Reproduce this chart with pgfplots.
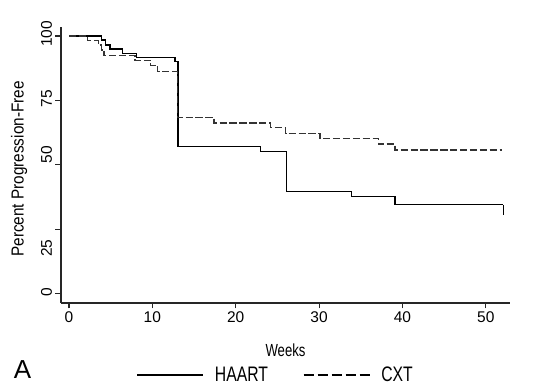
\documentclass[border=0pt]{standalone}
\usepackage{fontspec}
\setmainfont{Liberation Sans}
\newfontfamily\condfont{Liberation Sans}[FakeStretch=0.75]
\newfontfamily\ylfont{Liberation Sans}[FakeStretch=0.88]
\usepackage{pgfplots}
\pgfplotsset{compat=1.18}
\begin{document}
\begin{tikzpicture}
\useasboundingbox (0,0) rectangle (560pt,390pt);
\begin{axis}[
  at={(61pt,87pt)}, anchor=south west,
  width=449pt, height=276pt, scale only axis,
  xmin=-0.96, xmax=52.9, ymin=-3.6, ymax=103.5,
  axis x line*=bottom, axis y line*=left,
  axis line style={line width=1.4pt, black!85},
  xtick={0,10,20,30,40,50}, ytick={0,25,50,75,100},
  yticklabels={0,{25\hspace*{42pt}},{\hspace*{16pt}50},75,100},
  tick align=outside, major tick length=5.5pt,
  tick style={line width=1.1pt, black!85},
  /pgf/number format/assume math mode=true,
  tick label style={font=\fontsize{15.5}{15.5}\selectfont},
  y tick label style={rotate=90, anchor=south, xshift=2pt},
  xlabel={Weeks},
  xlabel style={at={(axis description cs:0.5,-0.17)}, anchor=center, font=\condfont\fontsize{17.5}{17.5}\selectfont},
  ylabel={Percent Progression-Free},
  ylabel style={at={(axis description cs:-0.0935,0.4855)}, anchor=center, rotate=0, font=\ylfont\fontsize{17.4}{17.4}\selectfont},
  legend columns=2,
  legend style={draw=none, fill=none, at={(axis description cs:0.168,-0.261)}, anchor=west,
    font=\condfont\fontsize{21}{21}\selectfont, inner sep=0pt,
    /tikz/every odd column/.append style={column sep=9pt},
    /tikz/every even column/.append style={column sep=33pt}},
  legend image code/.code={\draw[#1] (0pt,0pt) -- (66pt,0pt);},
]
\addplot[const plot, black, line width=1.3pt, forget plot] coordinates {
 (0,100) (3.9,98.4) (4.4,96.5) (4.9,95.0) (6.4,93.3) (8.1,91.7) (12.7,90.0)
 (13.06,57.0) (23.0,55.2) (26.1,39.7) (33.9,37.7) (39.1,34.5) (52.1,34.5) };
\addplot[black, line width=1.3pt, forget plot] coordinates {(52.1,34.5) (52.1,30.6)};
\addplot[const plot, black!80, line width=1.3pt, dash pattern=on 7.3pt off 2.6pt, forget plot] coordinates {
 (0,100) (2.2,98.2) (3.5,96.5) (3.9,94.6) (4.2,92.5) (7.9,90.6) (9.8,88.6) (10.6,86.2)
 (13.0,68.4) (17.4,66.2) (24.2,64.6) (26.0,62.3) (30.1,60.3) (37.1,58.1) (39.1,55.8) (51.9,55.8) };
\addlegendimage{black, line width=1.3pt}
\addlegendentry{HAART}
\addlegendimage{black, line width=1.3pt, dash pattern=on 10pt off 4pt}
\addlegendentry{CXT}
\end{axis}
\node[font=\fontsize{26}{26}\selectfont] at (22.5pt,20pt) {A};
\end{tikzpicture}
\end{document}
